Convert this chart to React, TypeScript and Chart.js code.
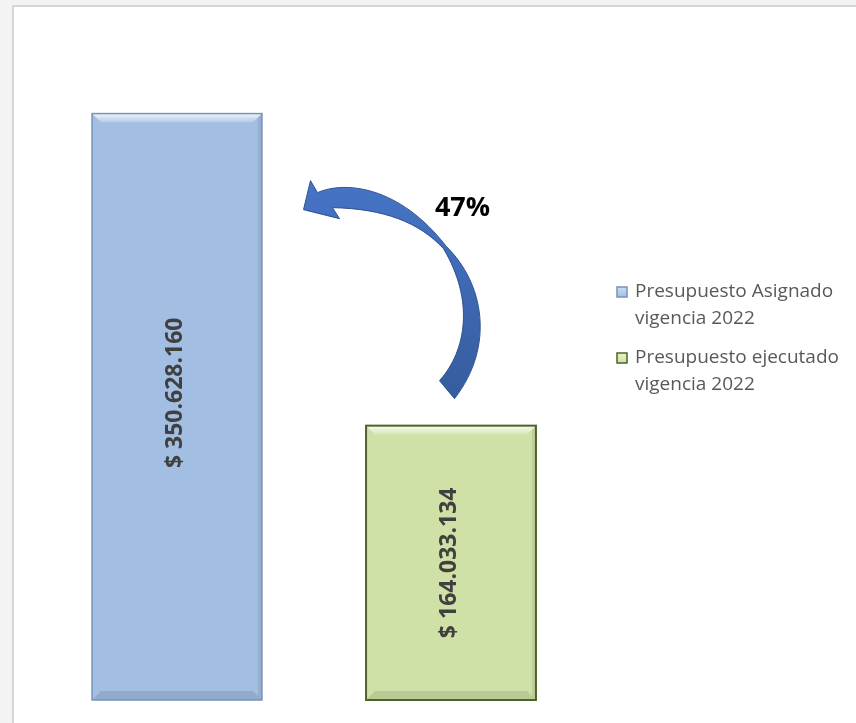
import React, { useEffect, useRef } from "react";
import { Chart, registerables } from "chart.js";

Chart.register(...registerables);

const categories = ["Presupuesto Asignado", "Presupuesto ejecutado"];
const seriesNames = [
  ["Presupuesto Asignado", "vigencia 2022"],
  ["Presupuesto ejecutado", "vigencia 2022"],
];
const asignado = [350628160, null];
const ejecutado = [null, 164033134];
const yMax = 400000000;

const fills = ["#A3BEE3", "#D0E1A7"];
const borders = ["#7892B8", "#4F6228"];

function fmt(v: number) {
  return "$ " + String(Math.round(v)).replace(/\B(?=(\d{3})+(?!\d))/g, ".");
}

// arrow outline, offsets relative to the top-centre of the executed bar
const arrowPath: [string, number[]][] = [
  ["M", [440, 380]],
  ["C", [467, 350, 475, 300, 444, 248]],
  ["C", [420, 222, 385, 208, 333, 207]],
  ["L", [340, 218]],
  ["L", [304, 209]],
  ["L", [311, 180]],
  ["L", [318, 192]],
  ["C", [345, 180, 400, 185, 447, 246]],
  ["C", [484, 282, 496, 345, 455, 398]],
];
const arrowRef = [451.5, 425];

const decorPlugin = {
  id: "decor",
  afterDatasetsDraw(chart: any) {
    const ctx = chart.ctx as CanvasRenderingContext2D;
    const bars: any[] = [];
    chart.data.datasets.forEach((ds: any, di: number) => {
      const meta = chart.getDatasetMeta(di);
      meta.data.forEach((el: any, i: number) => {
        const v = ds.data[i];
        if (v == null) return;
        const p = el.getProps(["x", "y", "base", "width"], true);
        bars.push({ ...p, v, di });
      });
    });
    // bevels
    bars.forEach((b) => {
      const l = b.x - b.width / 2;
      const r = b.x + b.width / 2;
      const t = b.y;
      const bot = b.base;
      const s = 9;
      ctx.save();
      let g = ctx.createLinearGradient(0, t, 0, t + s);
      g.addColorStop(0, "rgba(255,255,255,0.85)");
      g.addColorStop(1, "rgba(255,255,255,0.15)");
      ctx.fillStyle = g;
      ctx.beginPath();
      ctx.moveTo(l, t);
      ctx.lineTo(r, t);
      ctx.lineTo(r - s, t + s);
      ctx.lineTo(l + s, t + s);
      ctx.closePath();
      ctx.fill();
      ctx.fillStyle = "rgba(0,0,0,0.10)";
      ctx.beginPath();
      ctx.moveTo(l, bot);
      ctx.lineTo(r, bot);
      ctx.lineTo(r - s, bot - s);
      ctx.lineTo(l + s, bot - s);
      ctx.closePath();
      ctx.fill();
      ctx.fillStyle = "rgba(0,0,0,0.08)";
      ctx.beginPath();
      ctx.moveTo(r, t);
      ctx.lineTo(r, bot);
      ctx.lineTo(r - 4, bot - 4);
      ctx.lineTo(r - 4, t + 4);
      ctx.closePath();
      ctx.fill();
      ctx.strokeStyle = borders[b.di];
      ctx.lineWidth = b.di === 0 ? 1.5 : 2;
      ctx.strokeRect(l, t, r - l, bot - t);
      ctx.restore();
      // value label
      ctx.save();
      ctx.translate(b.x - 2, (b.y + b.base) / 2 - (b.di === 0 ? 14 : 0));
      ctx.rotate(-Math.PI / 2);
      ctx.font = "bold 23px 'Open Sans'";
      ctx.fillStyle = "#404040";
      ctx.textAlign = "center";
      ctx.textBaseline = "middle";
      ctx.fillText(fmt(b.v), 0, 0);
      ctx.restore();
    });
    // arrow
    const green = bars.find((b) => b.di === 1);
    const blue = bars.find((b) => b.di === 0);
    if (green && blue) {
      const ox = green.x - arrowRef[0];
      const oy = green.y - arrowRef[1];
      ctx.save();
      ctx.translate(ox, oy);
      ctx.beginPath();
      arrowPath.forEach(([c, p]) => {
        if (c === "M") ctx.moveTo(p[0], p[1]);
        else if (c === "L") ctx.lineTo(p[0], p[1]);
        else ctx.bezierCurveTo(p[0], p[1], p[2], p[3], p[4], p[5]);
      });
      ctx.closePath();
      const g = ctx.createLinearGradient(0, 180, 0, 400);
      g.addColorStop(0, "#4674C6");
      g.addColorStop(1, "#355C9E");
      ctx.fillStyle = g;
      ctx.fill();
      ctx.strokeStyle = "#2F528F";
      ctx.lineWidth = 1;
      ctx.stroke();
      ctx.restore();
      // percentage
      const pct = Math.round((green.v / blue.v) * 100);
      ctx.save();
      ctx.font = "bold 27px 'Open Sans'";
      ctx.fillStyle = "#000000";
      ctx.textAlign = "center";
      ctx.textBaseline = "middle";
      ctx.fillText(pct + "%", 463 + ox, 208 + oy);
      ctx.restore();
    }
    // legend
    const lx = chart.chartArea.right + 29;
    const rows = [292, 358];
    seriesNames.forEach((lines, i) => {
      const cy = rows[i];
      ctx.save();
      const g = ctx.createLinearGradient(0, cy - 5, 0, cy + 5);
      g.addColorStop(0, i === 0 ? "#C9DDF5" : "#E6F2C4");
      g.addColorStop(1, fills[i]);
      ctx.fillStyle = g;
      ctx.fillRect(lx, cy - 5, 10, 10);
      ctx.strokeStyle = borders[i];
      ctx.lineWidth = 1.5;
      ctx.strokeRect(lx, cy - 5, 10, 10);
      ctx.font = "19px 'Open Sans'";
      ctx.fillStyle = "#595959";
      ctx.textAlign = "left";
      ctx.textBaseline = "middle";
      lines.forEach((ln, k) => ctx.fillText(ln, lx + 18, cy + k * 27));
      ctx.restore();
    });
  },
};

export default function App() {
  const ref = useRef<HTMLCanvasElement>(null);
  useEffect(() => {
    if (!ref.current) return;
    const chart = new Chart(ref.current, {
      type: "bar",
      data: {
        labels: categories,
        datasets: [
          {
            label: seriesNames[0].join(" "),
            data: asignado,
            backgroundColor: fills[0],
            borderWidth: 0,
            skipNull: true,
            barPercentage: 0.62,
            categoryPercentage: 1,
          } as any,
          {
            label: seriesNames[1].join(" "),
            data: ejecutado,
            backgroundColor: fills[1],
            borderWidth: 0,
            skipNull: true,
            barPercentage: 0.62,
            categoryPercentage: 1,
          } as any,
        ],
      },
      options: {
        responsive: false,
        animation: false,
        layout: { padding: { top: 31, bottom: 23, left: 40, right: 268 } },
        scales: {
          x: { display: false },
          y: { display: false, min: 0, max: yMax },
        },
        plugins: {
          legend: { display: false },
          tooltip: { enabled: false },
        },
      },
      plugins: [decorPlugin],
    });
    return () => chart.destroy();
  }, []);
  return (
    <div
      style={{
        position: "fixed",
        left: 0,
        top: 0,
        width: 856,
        height: 723,
        background: "#F3F3F3",
        overflow: "hidden",
      }}
    >
      <div
        style={{
          position: "absolute",
          left: 12,
          top: 5,
          width: 900,
          height: 800,
          background: "#FFFFFF",
          borderTop: "2px solid #D6D6D6",
          borderLeft: "2px solid #D6D6D6",
        }}
      />
      <canvas
        ref={ref}
        width={856}
        height={723}
        style={{ position: "absolute", left: 0, top: 0, width: 856, height: 723 }}
      />
    </div>
  );
}
